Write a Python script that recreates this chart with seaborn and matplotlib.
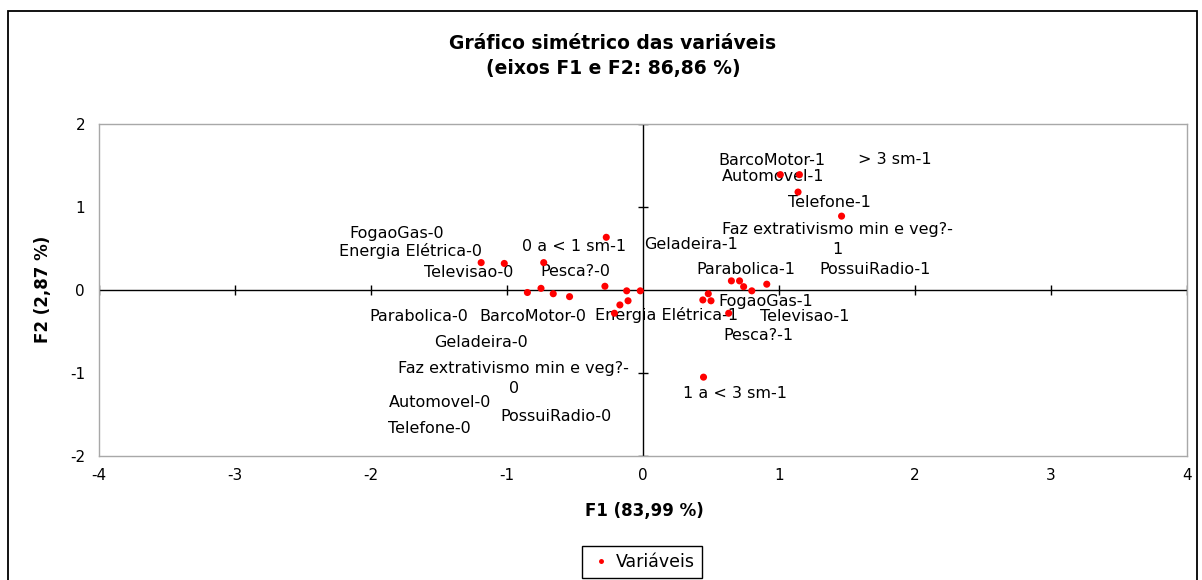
import numpy as np
import pandas as pd
import matplotlib
matplotlib.use('Agg')
import matplotlib.pyplot as plt
from matplotlib.patches import Rectangle
import seaborn as sns

# Coordinates of the categories on F1 / F2
f1 = [-1.19, -1.02, -0.73, -0.27, -0.75, -0.85, -0.66, -0.54, -0.28, -0.12,
      -0.02, -0.11, -0.17, -0.21,
      1.01, 1.15, 1.14, 1.46, 0.65, 0.71, 0.74, 0.80, 0.91, 0.48,
      0.44, 0.50, 0.63, 0.445]
f2 = [0.33, 0.32, 0.33, 0.635, 0.02, -0.03, -0.045, -0.08, 0.045, -0.01,
      -0.01, -0.13, -0.18, -0.28,
      1.39, 1.39, 1.18, 0.89, 0.11, 0.11, 0.04, -0.01, 0.07, -0.045,
      -0.12, -0.13, -0.28, -1.05]

# Labels and where the chart printed them
labels = ['FogaoGas-0', 'Energia Elétrica-0', 'Televisao-0', '0 a < 1 sm-1',
          'Pesca?-0', 'Parabolica-0', 'BarcoMotor-0', 'Geladeira-0',
          'Faz extrativismo min e veg?-\n0', 'Automovel-0', 'PossuiRadio-0',
          'Telefone-0', 'Energia Elétrica-1', 'BarcoMotor-1', '> 3 sm-1',
          'Automovel-1', 'Telefone-1', 'Faz extrativismo min e veg?-\n1',
          'Geladeira-1', 'Parabolica-1', 'PossuiRadio-1', 'FogaoGas-1',
          'Televisao-1', 'Pesca?-1', '1 a < 3 sm-1']
label_x = [-1.81, -1.71, -1.28, -0.51, -0.50, -1.65, -0.81, -1.19, -0.95,
           -1.49, -0.64, -1.57, 0.17, 0.95, 1.85, 0.96, 1.37, 1.43, 0.35,
           0.76, 1.71, 0.90, 1.19, 0.85, 0.675]
label_y = [0.675, 0.47, 0.205, 0.52, 0.217, -0.325, -0.325, -0.627, -1.072,
           -1.361, -1.53, -1.663, -0.30, 1.566, 1.578, 1.373, 1.06, 0.614,
           0.545, 0.253, 0.253, -0.133, -0.325, -0.554, -1.241]

x_ticks = [-4, -3, -2, -1, 0, 1, 2, 3, 4]
y_ticks = [-2, -1, 0, 1, 2]

df = pd.DataFrame({'F1': f1, 'F2': f2, 'serie': 'Variáveis'})

sns.set_theme(style='white')
plt.rcParams['font.family'] = ['DejaVu Sans']
plt.rcParams['axes.unicode_minus'] = False
plt.rcParams['text.color'] = 'black'
plt.rcParams['axes.labelcolor'] = 'black'

fig = plt.figure(figsize=(12.02, 5.8), dpi=100)
ax = fig.add_axes([99 / 1202, 1 - 456 / 580, 1088 / 1202, 332 / 580])

# zero lines with cross ticks
ax.axhline(0, color='black', lw=1, zorder=1)
ax.axvline(0, color='black', lw=1, zorder=1)
xt = [t for t in x_ticks if t != 0]
yt = [t for t in y_ticks if t != 0]
ax.plot(xt, np.zeros(len(xt)), ls='none', marker='|', ms=7, mew=1, color='black', zorder=1)
ax.plot(np.zeros(len(yt)), yt, ls='none', marker='_', ms=7, mew=1, color='black', zorder=1)

sns.scatterplot(data=df, x='F1', y='F2', hue='serie', palette={'Variáveis': '#ff0000'},
                s=26, linewidth=0, ax=ax, zorder=3)

# wrapped labels: each line drawn on its own, 14.4 pt apart
line_gap = 14.4
for lab, lx, ly in zip(labels, label_x, label_y):
    parts = lab.split('\n')
    n = len(parts)
    for i, part in enumerate(parts):
        dy = ((n - 1) / 2 - i) * line_gap
        ax.annotate(part, (lx, ly), xytext=(0, dy), textcoords='offset points',
                    ha='center', va='center', fontsize=11.5, color='black', zorder=2)

ax.set_xlim(-4, 4)
ax.set_ylim(-2, 2)
ax.set_xticks(x_ticks)
ax.set_yticks(y_ticks)
ax.tick_params(axis='both', length=0, labelsize=11, colors='black')
ax.tick_params(axis='y', pad=10)
ax.tick_params(axis='x', pad=9)
ax.set_xlabel('')
ax.set_ylabel('')
for sp in ax.spines.values():
    sp.set_color('#a8a8a8')
    sp.set_linewidth(1)

fig.text(644 / 1202, 1 - 511 / 580, 'F1 (83,99 %)', ha='center', va='center',
         fontsize=12, fontweight='bold', color='black')
fig.text(43 / 1202, 1 - 289 / 580, 'F2 (2,87 %)', ha='center', va='center',
         fontsize=12, fontweight='bold', rotation=90, color='black')
fig.text(613 / 1202, 1 - 56 / 580, 'Gráfico simétrico das variáveis\n(eixos F1 e F2: 86,86 %)',
         ha='center', va='center', fontsize=13.5, fontweight='bold', linespacing=1.45,
         color='black')

# legend below the plot
handles, labs = ax.get_legend_handles_labels()
leg = ax.legend(handles, labs, loc='center', bbox_to_anchor=(642 / 1202, 1 - 562 / 580),
                bbox_transform=fig.transFigure, fontsize=12.5, frameon=True, fancybox=False,
                edgecolor='black', framealpha=1, markerscale=0.7, handletextpad=0.15,
                borderpad=0.4, handlelength=1.4)
leg.get_frame().set_linewidth(1)
for t in leg.get_texts():
    t.set_color('black')

# outer chart border
fig.patches.append(Rectangle((8 / 1202, -0.01), 1189 / 1202, 1 - 11 / 580 + 0.01,
                             transform=fig.transFigure, fill=False, edgecolor='black',
                             linewidth=1.3))

fig.savefig('out.png', dpi=100)
